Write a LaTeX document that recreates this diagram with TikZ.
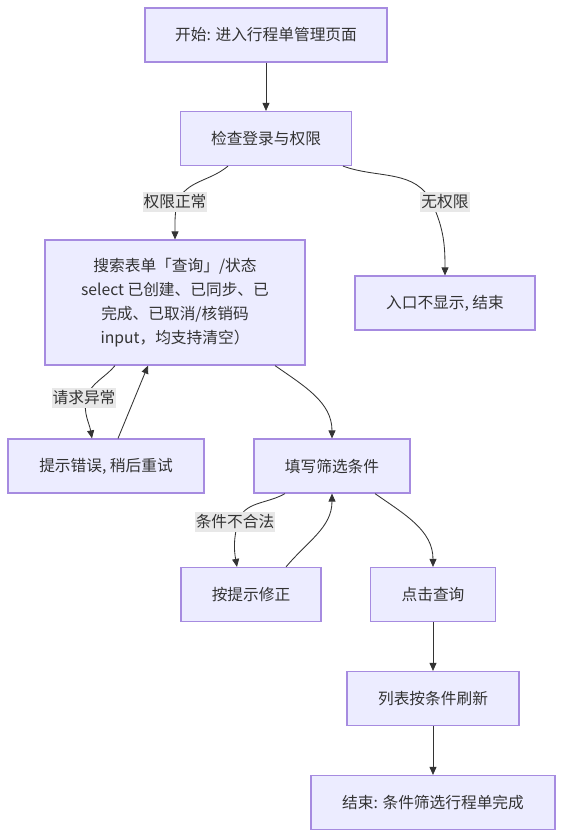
\documentclass[tikz,border=0pt]{standalone}
\usepackage{fontspec}
\setmainfont{Noto Sans CJK SC}
\usetikzlibrary{arrows.meta}
\definecolor{boxfill}{HTML}{ECECFF}
\definecolor{boxline}{HTML}{A68BE0}
\definecolor{lblfill}{HTML}{E8E8E8}
\definecolor{txt}{HTML}{333333}
\tikzset{
  box/.style={draw=boxline, fill=boxfill, line width=1.2pt, text=txt,
    minimum height=54pt, inner sep=0pt, align=center,
    font=\fontsize{15.7}{24}\selectfont},
  lbl/.style={fill=lblfill, text=txt, inner xsep=1pt, inner ysep=3pt,
    font=\fontsize{15.7}{24}\selectfont},
  edge/.style={draw=txt, line width=0.85pt, -{Triangle[length=8pt,width=7pt]}}
}
\begin{document}
\begin{tikzpicture}[x=1pt,y=1pt]
  \useasboundingbox[fill=white] (0,0) rectangle (563,-838);

  \node[box, minimum width=242pt] (start) at (266,-35) {开始: 进入行程单管理页面};
  \node[box, minimum width=171pt] (chk) at (266,-138.5) {检查登录与权限};
  \node[box, minimum width=260pt, minimum height=125pt] (srch) at (175,-302.5)
    {搜索表单「查询」/状态\\ select 已创建、已同步、已\\ 完成、已取消/核销码\\ input，均支持清空）};
  \node[box, minimum width=180pt] (noauth) at (445,-303) {入口不显示, 结束};
  \node[box, minimum width=196pt] (err) at (106,-466) {提示错误, 稍后重试};
  \node[box, minimum width=156pt] (fill) at (332,-466) {填写筛选条件};
  \node[box, minimum width=140pt] (fix) at (251,-594.5) {按提示修正};
  \node[box, minimum width=125pt] (query) at (433,-594.5) {点击查询};
  \node[box, minimum width=172pt] (list) at (433,-698.5) {列表按条件刷新};
  \node[box, minimum width=244pt] (done) at (433,-802.5) {结束: 条件筛选行程单完成};

  % label positions
  \coordinate (l1) at (177,-202);
  \coordinate (l2) at (432,-203);
  \coordinate (l3) at (86,-398);
  \coordinate (l4) at (238,-522);

  \draw[edge] (start) -- (chk);
  \draw[edge] ([xshift=-38pt]chk.south) to[out=-140,in=65] (l1)
    to[out=-100,in=90] (srch.north);
  \draw[edge] ([xshift=77pt]chk.south) to[out=-20,in=115] (l2)
    to[out=-65,in=90] (noauth.north);
  \draw[edge] ([xshift=-60pt]srch.south) to[out=-130,in=70] (l3)
    to[out=-100,in=100] ([xshift=-14pt]err.north);
  \draw[edge] ([xshift=12pt]err.north) -- ([xshift=-27pt]srch.south);
  \draw[edge] ([xshift=100pt]srch.south) to[out=-35,in=90] (fill.north);
  \draw[edge] ([xshift=-47pt]fill.south) to[out=-150,in=75] (l4)
    to[out=-105,in=100] ([xshift=-14pt]fix.north);
  \draw[edge] ([xshift=35pt]fix.north) to[out=50,in=-90] (fill.south);
  \draw[edge] ([xshift=43pt]fill.south) to[out=-35,in=90] (query.north);
  \draw[edge] (query) -- (list);
  \draw[edge] (list) -- (done);

  \node[lbl] (t1) at (175,-202) {权限正常};
  \node[lbl] (t2) at (445,-202) {无权限};
  \node[lbl] (t3) at (84,-398) {请求异常};
  \node[lbl] (t4) at (235,-522) {条件不合法};
\end{tikzpicture}
\end{document}
